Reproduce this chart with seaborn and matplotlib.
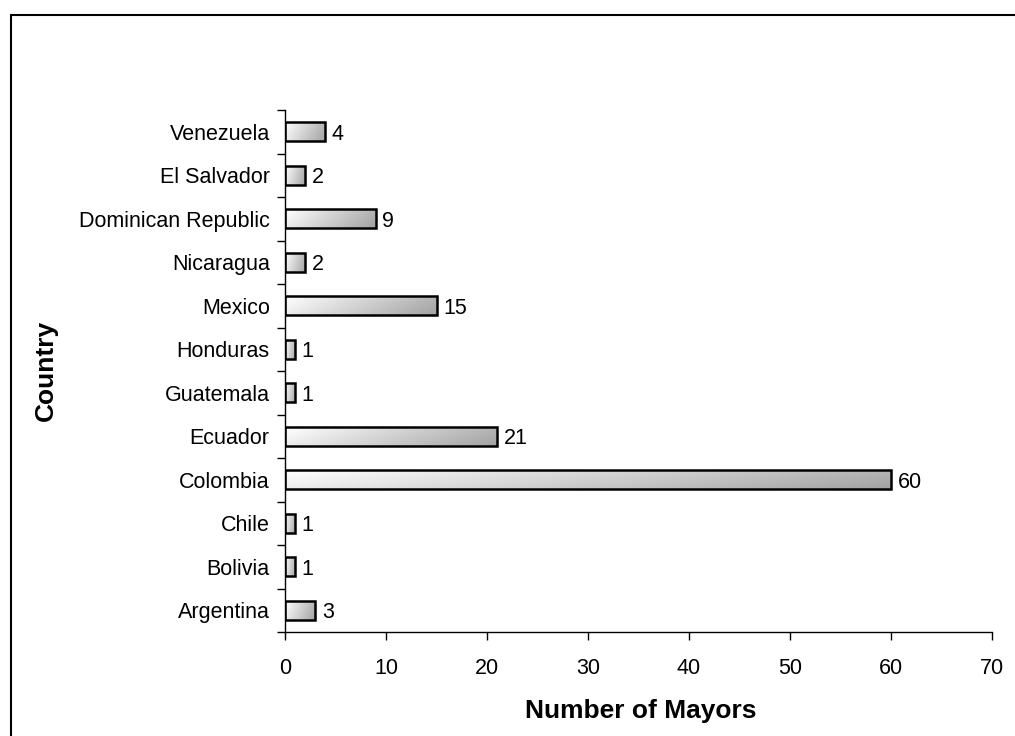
import numpy as np
import pandas as pd
import matplotlib
matplotlib.use("Agg")
import matplotlib.pyplot as plt
from matplotlib.colors import LinearSegmentedColormap
from matplotlib.patches import Rectangle
import seaborn as sns

countries = ["Venezuela", "El Salvador", "Dominican Republic", "Nicaragua", "Mexico",
             "Honduras", "Guatemala", "Ecuador", "Colombia", "Chile", "Bolivia", "Argentina"]
mayors = [4, 2, 9, 2, 15, 1, 1, 21, 60, 1, 1, 3]
x_ticks = [0, 10, 20, 30, 40, 50, 60, 70]

df = pd.DataFrame({"Country": countries, "Mayors": mayors})

sns.set_theme(style="white")
plt.rcParams["font.family"] = ["Liberation Sans", "DejaVu Sans"]
plt.rcParams["text.color"] = "black"
plt.rcParams["xtick.color"] = "black"
plt.rcParams["ytick.color"] = "black"

fig = plt.figure(figsize=(10.15, 7.36), dpi=100)
ax = fig.add_axes([285 / 1015, 1 - 632 / 736, (992 - 285) / 1015, (632 - 110) / 736])

sns.barplot(data=df, x="Mayors", y="Country", order=countries, orient="h",
            width=0.43, color="white", edgecolor="black", linewidth=1.8, ax=ax)

# Diagonal grey shading inside each bar: light upper-left to darker lower-right
cmap = LinearSegmentedColormap.from_list("shade", ["#ffffff", "#a2a2a2"])
gx, gy = np.meshgrid(np.linspace(0, 1, 200), np.linspace(0, 1, 40))
grad = 0.8 * gx + 0.2 * gy
for patch in ax.patches:
    x0, y0 = patch.get_x(), patch.get_y()
    w, h = patch.get_width(), patch.get_height()
    im = ax.imshow(grad, cmap=cmap, vmin=0, vmax=1, aspect="auto",
                   extent=(x0, x0 + w, y0 + h, y0), interpolation="bilinear", zorder=patch.get_zorder())
    im.set_clip_path(patch)
    patch.set_facecolor("none")
    patch.set_zorder(patch.get_zorder() + 0.5)

for i, v in enumerate(mayors):
    ax.text(v + 0.65, i, str(v), va="center_baseline", ha="left", fontsize=15.5, color="black")

ax.set_xlim(0, 70)
ax.set_ylim(len(countries) - 0.5, -0.5)
ax.set_xticks(x_ticks)
ax.set_xticklabels([str(t) for t in x_ticks], fontsize=15.5)
ax.set_yticks(range(len(countries)))
ax.set_yticklabels(countries, fontsize=15.5, va="center_baseline")
ax.set_yticks(np.arange(-0.5, len(countries), 1.0), minor=True)
ax.tick_params(axis="y", which="major", length=0, pad=11, colors="black")
ax.tick_params(axis="y", which="minor", length=6, width=1, color="black", direction="out", left=True)
ax.tick_params(axis="x", which="major", length=6, width=1, color="black", direction="out",
               bottom=True, pad=13, labelcolor="black")

for side in ["top", "right"]:
    ax.spines[side].set_visible(False)
for side in ["left", "bottom"]:
    ax.spines[side].set_color("black")
    ax.spines[side].set_linewidth(1.0)

ax.set_xlabel("")
ax.set_ylabel("")
fig.text(641 / 1015, 1 - 711 / 736, "Number of Mayors", ha="center", va="center",
         fontsize=19, fontweight="bold", color="black")
fig.text(46 / 1015, 1 - 370 / 736, "Country", ha="center", va="center",
         fontsize=19, fontweight="bold", rotation=90, color="black")

# Chart frame, open on the right and bottom edges
fig.patches.append(Rectangle((10.5 / 1015, -0.05), 1.1, 1 - 15 / 736 + 0.05,
                             transform=fig.transFigure, fill=False,
                             edgecolor="black", linewidth=1.5))

fig.savefig("out.png", dpi=100)
